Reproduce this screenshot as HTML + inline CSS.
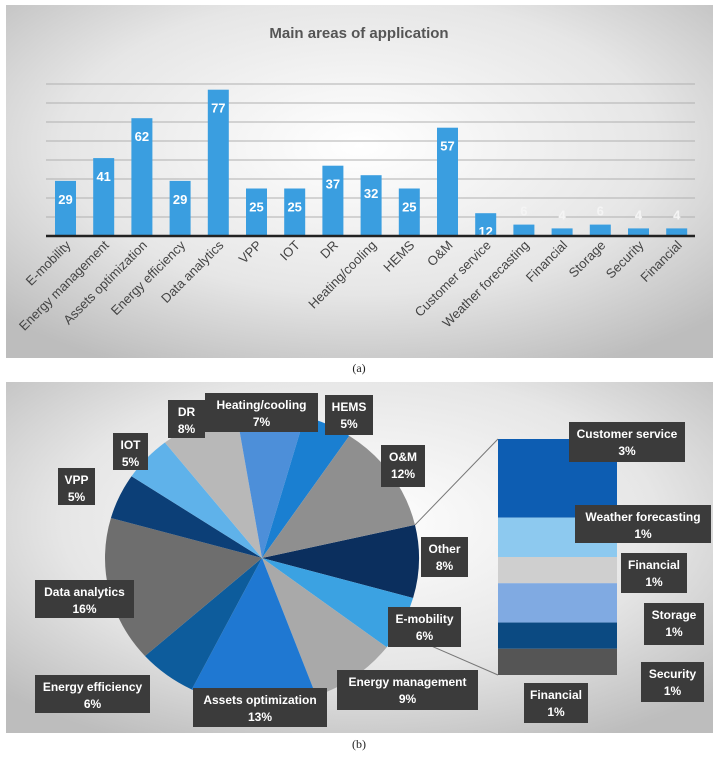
<!DOCTYPE html>
<html><head><meta charset="utf-8"><style>
body{margin:0;background:#fff;}
svg{display:block;font-family:"Liberation Sans",sans-serif;}
</style></head><body>
<svg id="s" width="720" height="758" viewBox="0 0 720 758">
<defs>
<radialGradient id="bg" cx="50%" cy="40%" r="70%">
<stop offset="0" stop-color="#ffffff"/><stop offset="0.6" stop-color="#e6e6e6"/><stop offset="1" stop-color="#bdbdbd"/>
</radialGradient>
</defs>
<rect x="6" y="5" width="707" height="353" fill="url(#bg)"/>
<text x="359" y="38" text-anchor="middle" font-size="15" font-weight="bold" fill="#555">Main areas of application</text>
<g id="grid"></g>
<g id="bars"></g>
<line x1="46" y1="236" x2="695" y2="236" stroke="#222" stroke-width="2.5"/>
<text x="359" y="372" text-anchor="middle" font-size="12" font-family="Liberation Serif,serif" fill="#222">(a)</text>

<rect x="6" y="382" width="707" height="351" fill="url(#bg)"/>
<g id="pie"></g>
<g id="stack"></g>
<g id="labels"></g>
<text x="359" y="748" text-anchor="middle" font-size="12" font-family="Liberation Serif,serif" fill="#222">(b)</text>
</svg>
<script>
const categories=["E-mobility","Energy management","Assets optimization","Energy efficiency","Data analytics","VPP","IOT","DR","Heating/cooling","HEMS","O&M","Customer service","Weather forecasting","Financial","Storage","Security","Financial"];
const counts=[29,41,62,29,77,25,25,37,32,25,57,12,6,4,6,4,4];
const gridTicks=[10,20,30,40,50,60,70,80];

const pieLabels=["Other","E-mobility","Energy management","Assets optimization","Energy efficiency","Data analytics","VPP","IOT","DR","Heating/cooling","HEMS","O&M"];
const piePercents=[8,6,9,13,6,16,5,5,8,7,5,12];
const pieColors=["#0b2f5e","#3ba2e2","#a9a9a9","#1f78d2","#0d5c9c","#6e6e6e","#0c3f77","#5fb2ea","#b8b8b8","#4d8fd9","#1a7fd1","#8f8f8f"];

const otherLabels=["Customer service","Weather forecasting","Financial","Storage","Security","Financial"];
const otherValues=[12,6,4,6,4,4];
const otherPercents=[3,1,1,1,1,1];
const otherColors=["#0d5db2","#8dc9ef","#cfcfcf","#80aae2","#0b4a82","#555555"];

const NS="http://www.w3.org/2000/svg";
function mk(tag,attrs,parent){const e=document.createElementNS(NS,tag);for(const k in attrs)e.setAttribute(k,attrs[k]);parent.appendChild(e);return e;}

// bar chart
const y0=236, pxPerUnit=1.9, x0=65.5, pitch=38.2, bw=21;
const yScale=v=>y0-v*pxPerUnit;
const xScale=i=>x0+i*pitch;
const grid=document.getElementById('grid');
gridTicks.forEach(t=>{
 const l=mk('line',{x1:46,x2:695,y1:yScale(t),y2:yScale(t),stroke:'#b0b0b0','stroke-width':1},grid);
 
 
});
const bars=document.getElementById('bars');
counts.forEach((v,i)=>{
 const cx=xScale(i);
 const r=mk('rect',{x:cx-bw/2,y:yScale(v),width:bw,height:v*pxPerUnit,fill:'#3a9ee0'},bars);
 
 
 const small=v<10;
 const t=mk('text',{x:cx,y:small?yScale(v)-9:yScale(v)+23,'text-anchor':'middle','font-size':13,'font-weight':'bold',fill:small?'#f4f4f4':'#fff'},bars);
 t.textContent=v;
 
 
 const lb=mk('text',{x:cx+6,y:246,'text-anchor':'end','font-size':13,fill:'#444',transform:`rotate(-45 ${cx+6} 246)`},bars);
 lb.textContent=categories[i];
 
 
});

// pie
const pcx=262, pcy=558, rx=157, ry=147;
const pie=document.getElementById('pie');
let ang=-13*Math.PI/180;
const tot=piePercents.reduce((a,b)=>a+b,0);
const pt=a=>[pcx+rx*Math.cos(a),pcy+ry*Math.sin(a)];
let otherStart, otherEnd;
piePercents.forEach((p,i)=>{
 const a1=ang+p/tot*2*Math.PI;
 const [x1,y1]=pt(ang),[x2,y2]=pt(a1);
 const large=(a1-ang)>Math.PI?1:0;
 const s=mk('path',{d:`M${pcx},${pcy} L${x1},${y1} A${rx},${ry} 0 ${large} 1 ${x2},${y2} Z`,fill:pieColors[i]},pie);
 
 
 if(i===0){otherStart=[x1,y1];otherEnd=[x2,y2];}
 ang=a1;
});

// stacked bar of "other"
const sx=498, sy=439, sw=119, sh=236;
const otot=otherValues.reduce((a,b)=>a+b,0);
const stack=document.getElementById('stack');
let cy=sy;
otherValues.forEach((v,i)=>{
 const h=v/otot*sh;
 const r=mk('rect',{x:sx,y:cy,width:sw,height:h,fill:otherColors[i]},stack);
 
 
 cy+=h;
});
const c1=mk('line',{x1:otherStart[0],y1:otherStart[1],x2:sx,y2:sy,stroke:'#777','stroke-width':1},stack);


const c2=mk('line',{x1:otherEnd[0],y1:otherEnd[1]+40,x2:sx,y2:sy+sh,stroke:'#777','stroke-width':1},stack);



// data labels (box positions)
const labelBoxes=[
 ["Heating/cooling",7,205,393,113,39],["HEMS",5,325,395,48,40],["DR",8,168,400,37,38],
 ["IOT",5,113,433,35,37],["VPP",5,58,468,37,37],["O&M",12,381,445,44,42],
 ["Other",8,421,537,47,40],["Data analytics",16,35,580,99,38],["E-mobility",6,388,607,73,40],
 ["Energy management",9,337,670,141,40],["Energy efficiency",6,35,675,115,38],["Assets optimization",13,193,688,134,39],
 ["Customer service",3,569,422,116,40],["Weather forecasting",1,575,505,136,38],["Financial",1,621,553,66,40],
 ["Storage",1,644,603,60,42],["Security",1,641,662,63,40],["Financial",1,524,683,64,40]
];
const labels=document.getElementById('labels');
labelBoxes.forEach((b,i)=>{
 const g=mk('g',{},labels);
 
 
 mk('rect',{x:b[2],y:b[3],width:b[4],height:b[5],fill:'#3b3b3b'},g);
 const t1=mk('text',{x:b[2]+b[4]/2,y:b[3]+16,'text-anchor':'middle','font-size':12,'font-weight':'bold',fill:'#fff'},g);
 t1.textContent=b[0];
 const t2=mk('text',{x:b[2]+b[4]/2,y:b[3]+33,'text-anchor':'middle','font-size':12,'font-weight':'bold',fill:'#fff'},g);
 t2.textContent=b[1]+'%';
});
</script>
</body></html>
